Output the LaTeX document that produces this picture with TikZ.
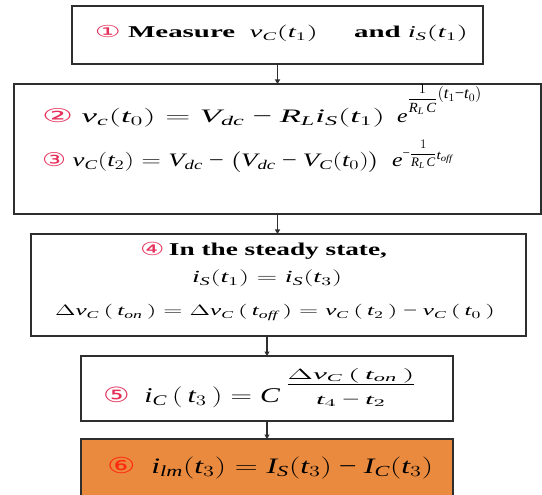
\documentclass[tikz,border=0pt]{standalone}
\usepackage{fix-cm}
\usepackage{fontspec}
\setmainfont{Liberation Serif}
\newfontfamily\symfont{DejaVu Sans}
\usepackage{graphicx}
\usepackage{amsmath}
\usetikzlibrary{arrows.meta}
\DeclareSymbolFont{tmsit}{TU}{\rmdefault}{m}{it}
\DeclareSymbolFont{tmsup}{TU}{\rmdefault}{m}{n}
\makeatletter
\count@=`a \loop \Umathcode\count@="7 \symtmsit \count@ \ifnum\count@<`z \advance\count@\@ne\repeat
\count@=`A \loop \Umathcode\count@="7 \symtmsit \count@ \ifnum\count@<`Z \advance\count@\@ne\repeat
\count@=`0 \loop \Umathcode\count@="7 \symtmsit \count@ \ifnum\count@<`9 \advance\count@\@ne\repeat
\makeatother
\Umathcode`(="4 \symtmsit `(
\Umathcode`)="5 \symtmsit `)
\Umathcode`=="3 \symtmsup `=
\Umathcode`-="2 \symtmsup "2212
\Umathchardef\Delta="0 \symtmsup "0394
\definecolor{numred}{HTML}{E5305A}
\definecolor{sixred}{HTML}{FF2A10}
\definecolor{boxorange}{HTML}{E98A3E}
\definecolor{framecol}{HTML}{2E2E2E}
\newcommand\cn[1]{{\symfont\color{numred}#1}}
\newcommand\fitto[2]{\resizebox{#1}{\height}{#2}}
\newcommand\fsz[1]{\fontsize{#1}{#1}\selectfont}
\newcommand\ee{\scalebox{1.25}[1]{$e$}}
\begin{document}
\begin{tikzpicture}[x=1pt,y=-1pt,
  frame/.style={draw=framecol, line width=1.4pt, inner sep=0pt, outer sep=0pt},
  txt/.style={anchor=base west, inner sep=0pt, outer sep=0pt, text=black},
  arr/.style={draw=framecol, line width=1.2pt, -{Triangle[length=4.5pt,width=5pt]}}]
\useasboundingbox (0,0) rectangle (542,495);
% boxes
\node[frame, minimum width=411pt, minimum height=58pt] (b1) at (277.5,35) {};
\node[frame, minimum width=527pt, minimum height=130pt] (b2) at (277.5,149) {};
\node[frame, minimum width=495pt, minimum height=102pt] (b4) at (278.5,285) {};
\node[frame, minimum width=372pt, minimum height=65pt] (b5) at (267,388.5) {};
\node[frame, fill=boxorange, minimum width=372pt, minimum height=66pt] (b6) at (267,472) {};
% arrows
\draw[arr] (b1.south) -- (b2.north);
\draw[arr] (b2.south) -- (b2.south |- b4.north);
\draw[arr] (b4.south -| b5.north) -- (b5.north);
\draw[arr] (b5.south) -- (b6.north);
% texts
\node[txt] (t1) at (95,38) {\fsz{16.5}\fitto{373pt}{\cn{①}\ \textbf{Measure}\ \ $v_C(t_1)$\quad\ \textbf{and} $i_S(t_1)$}};
\node[txt] (t2) at (42,123) {\fsz{19}\fitto{343pt}{\cn{②} $v_c(t_0)=V_{dc}-R_L i_S(t_1)$}\hspace{12pt}\ee\raisebox{20.5pt}{\fsz{14}\fitto{30pt}{$\dfrac{1}{R_L\,C}$}}\raisebox{24pt}{\fsz{16}\fitto{44pt}{$(t_1{-}t_0)$}}};
\node[txt] (t3) at (42,167) {\fsz{19}\fitto{338pt}{\cn{③} $v_C(t_2)=V_{dc}-\bigl(V_{dc}-V_C(t_0)\bigr)$}\hspace{12pt}\ee\raisebox{9.5pt}{\fsz{13}\fitto{34pt}{$-\dfrac{1}{R_L\,C}$}}\raisebox{7pt}{\fsz{13}\fitto{16pt}{$t_{off}$}}};
\node[txt] (t4a) at (140,255) {\fsz{18}\fitto{247pt}{\cn{④}\,\textbf{In the steady state,}}};
\node[txt] (t4b) at (192,283) {\fsz{17}\fitto{150pt}{$i_S(t_1)=i_S(t_3)$}};
\node[txt] (t4c) at (55,316) {\fsz{15}\fitto{440pt}{$\Delta v_C\,(\,t_{on}\,) = \Delta v_C\,(\,t_{off}\,) = v_C\,(\,t_2\,)-v_C\,(\,t_0\,)$}};
\node[txt] (t5) at (103,402) {\fsz{21}\fitto{177pt}{\cn{⑤}\ \ $i_C\,(\,t_3\,) = C$}\hspace{5pt}\raisebox{12.5pt}{\fitto{132pt}{$\frac{\Delta v_C\,(\,t_{on}\,)}{\rule{0pt}{19pt}t_4\,-\,t_2}$}}};
\node[txt] (t6) at (107,473) {\fsz{22}\fitto{326pt}{{\symfont\color{sixred}⑥}\ \ $i_{lm}(t_3)=I_S(t_3)-I_C(t_3)$}};
\end{tikzpicture}
\end{document}
